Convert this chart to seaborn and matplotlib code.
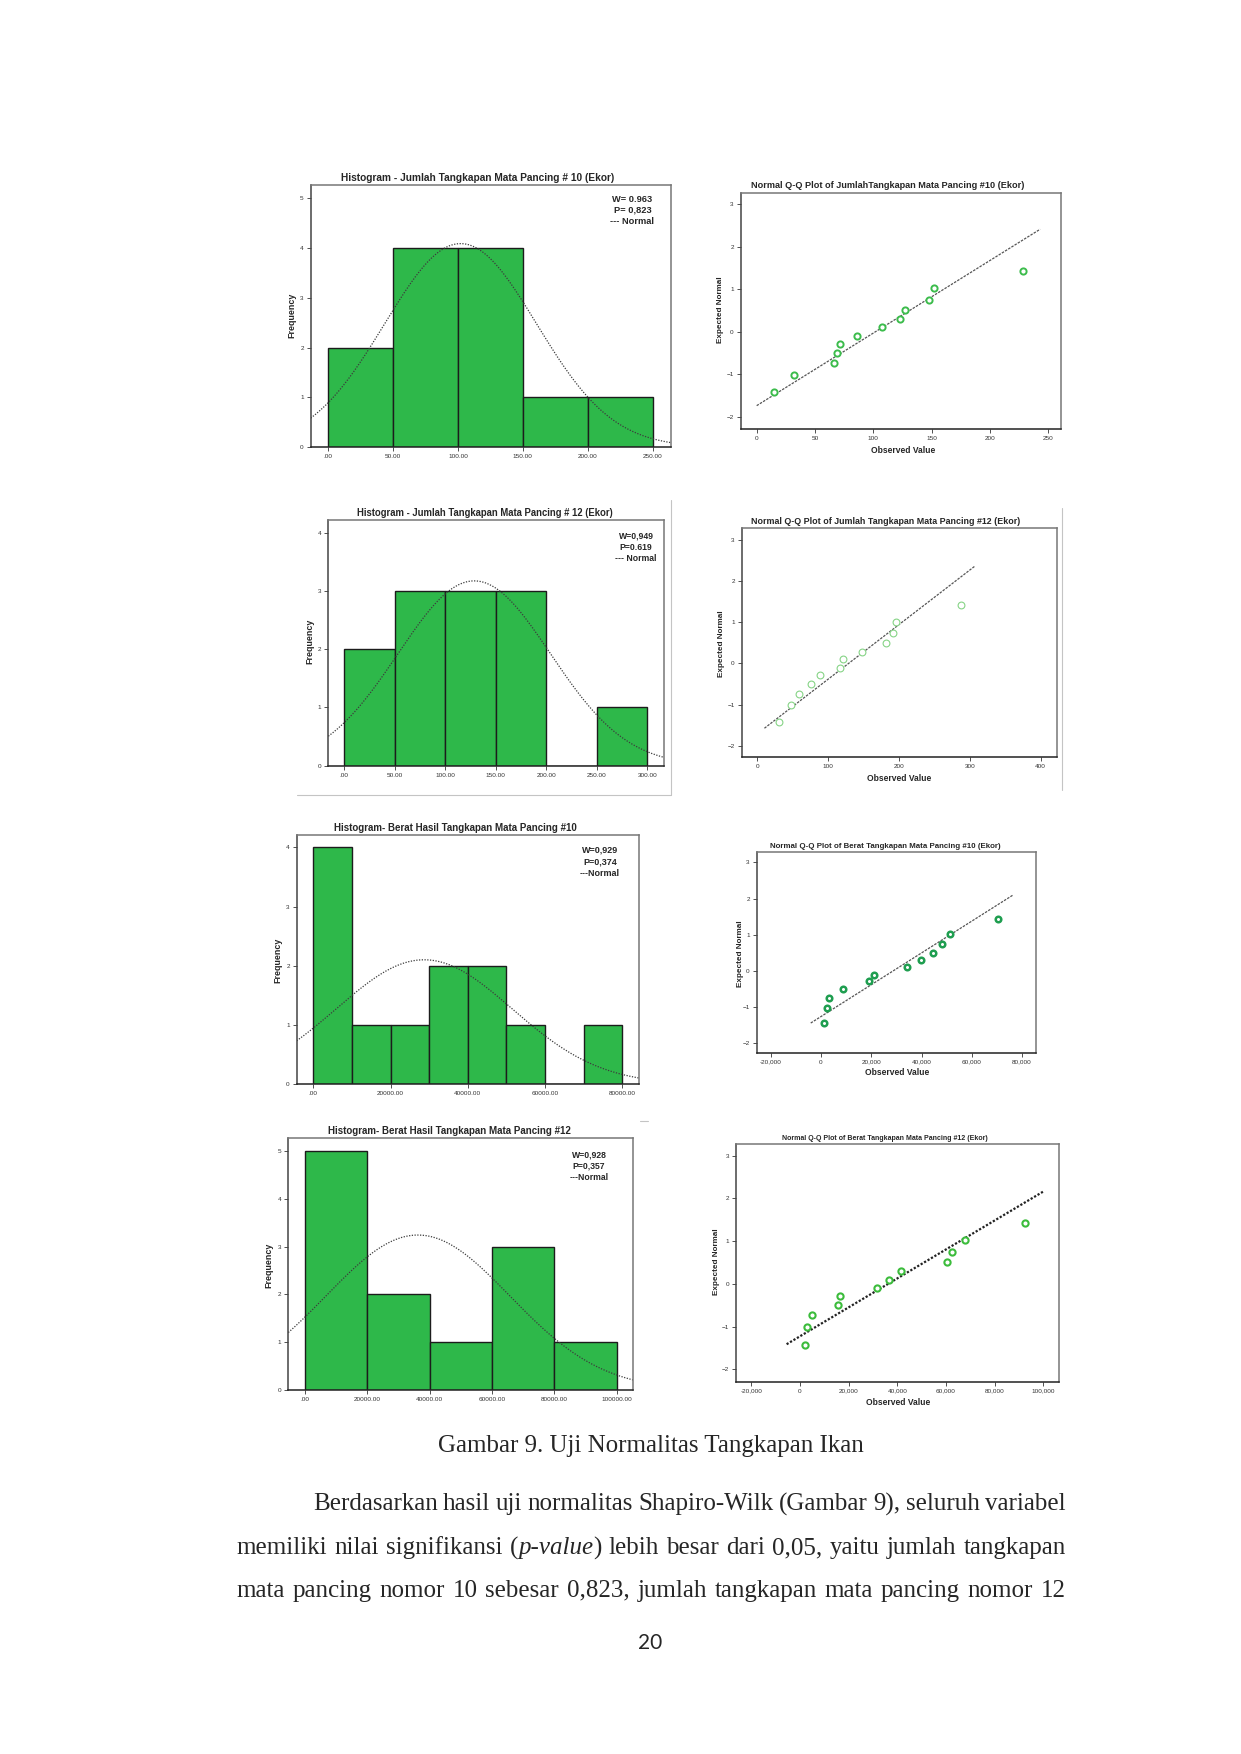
import numpy as np
import seaborn as sns
import matplotlib.pyplot as plt
from matplotlib.lines import Line2D

W, H = 1241, 1754

jumlah_10 = [15, 32, 66, 69, 71, 86, 107, 123, 127, 148, 152, 228]
jumlah_12 = [30, 48, 59, 76, 88, 117, 121, 148, 182, 192, 196, 287]
berat_10 = [1325, 2250, 3050, 8870, 19070, 21060, 34300, 39800, 44640, 47950, 51390, 70600]
berat_12 = [2055, 2740, 5070, 15480, 16440, 31510, 36440, 41510, 60550, 62600, 67950, 92470]
expected_normal = [-1.43, -1.02, -0.74, -0.50, -0.29, -0.10, 0.10, 0.29, 0.50, 0.74, 1.02, 1.43]

# histogram bin edges
bins_j10 = [0, 50, 100, 150, 200, 250]
bins_j12 = [0, 50, 100, 150, 200, 250, 300]
bins_b10 = [0, 10000, 20000, 30000, 40000, 50000, 60000, 70000, 80000]
bins_b12 = [0, 20000, 40000, 60000, 80000, 100000]

# x range covered by the reference line in each Q-Q plot
qq_line_j10 = [0, 243]
qq_line_j12 = [10, 307]
qq_line_b10 = [-4100, 76400]
qq_line_b12 = [-5500, 100000]

stats_j10 = ["W= 0.963", "P= 0,823", "--- Normal"]
stats_j12 = ["W=0,949", "P=0.619", "--- Normal"]
stats_b10 = ["W=0,929", "P=0,374", "---Normal"]
stats_b12 = ["W=0,928", "P=0,357", "---Normal"]

GREEN = "#2eb84a"

sns.set_style("white")
plt.rcParams["font.family"] = ["Liberation Sans", "DejaVu Sans"]

fig = plt.figure(figsize=(W / 100, H / 100), dpi=100)
fig.patch.set_facecolor("white")


def box(l, t, r, b):
    return [l / W, 1 - b / H, (r - l) / W, (b - t) / H]


def ftext(x, y, s, width=None, **kw):
    t = fig.text(x / W, 1 - y / H, s, **kw)
    if width:
        r = fig.canvas.get_renderer()
        ext = t.get_window_extent(r)
        w = ext.height if kw.get("rotation") == 90 else ext.width
        t.set_fontsize(t.get_fontsize() * width / w)
    return t


def style_axes(ax, xlim, ylim):
    ax.set_xlim(xlim)
    ax.set_ylim(ylim)
    for s in ax.spines.values():
        s.set_color("#777777")
        s.set_linewidth(1.1)
    ax.spines["bottom"].set_color("#222222")
    ax.spines["left"].set_color("#444444")
    ax.tick_params(labelsize=4.6, length=3, width=0.6, colors="#333333", pad=2,
                   bottom=True, left=True)
    ax.set_xlabel("")
    ax.set_ylabel("")


def hist_panel(rect, values, bins, xlim, ylim, yticks, title, title_c, title_w,
               stats, stats_c, stats_w, freq_c):
    ax = fig.add_axes(box(*rect))
    vals = np.array(values, dtype=float)
    sns.histplot(x=vals, bins=bins, ax=ax, color=GREEN, edgecolor="#1c1c1c",
                 linewidth=1.0, alpha=1)
    mu, sd = vals.mean(), vals.std(ddof=1)
    binw = bins[1] - bins[0]
    xs = np.linspace(xlim[0], xlim[1], 300)
    ys = len(vals) * binw * np.exp(-0.5 * ((xs - mu) / sd) ** 2) / (sd * np.sqrt(2 * np.pi))
    sns.lineplot(x=xs, y=ys, ax=ax, color="#3c3c3c", lw=0.9, linestyle=(0, (1, 1.2)))
    style_axes(ax, xlim, ylim)
    ax.set_xticks(bins)
    ax.set_xticklabels([f"{b:.2f}".lstrip("0") if b == 0 else f"{b:.2f}" for b in bins])
    ax.set_yticks(yticks)
    ftext(title_c[0], title_c[1], title, title_w, ha="center", va="center",
          fontweight="bold", fontsize=7)
    t0 = ftext(stats_c[0], stats_c[1], stats[0], stats_w, ha="center", va="center",
               fontweight="bold", fontsize=6)
    for i, s in enumerate(stats[1:]):
        ftext(stats_c[0], stats_c[1] + 11.5 * (i + 1), s, None, ha="center", va="center",
              fontweight="bold", fontsize=t0.get_fontsize())
    ftext(freq_c[0], freq_c[1], "Frequency", 46, rotation=90, ha="center", va="center",
          fontweight="bold", fontsize=6)
    return ax


def qq_panel(rect, values, line_x, xlim, ylim, xticks, title, title_c, title_w,
             obs_c, exp_c, mk, line_kw):
    ax = fig.add_axes(box(*rect))
    vals = np.array(values, dtype=float)
    mu, sd = vals.mean(), vals.std(ddof=1)
    lx = np.array(line_x, dtype=float)
    sns.lineplot(x=lx, y=(lx - mu) / sd, ax=ax, **line_kw)
    sns.scatterplot(x=vals, y=expected_normal, ax=ax, marker="o", facecolor="white",
                    zorder=3, **mk)
    style_axes(ax, xlim, ylim)
    ax.set_xticks(xticks)
    ax.set_xticklabels([f"{v:,}" for v in xticks])
    ax.set_yticks([-2, -1, 0, 1, 2, 3])
    ftext(title_c[0], title_c[1], title, title_w, ha="center", va="center",
          fontweight="bold", fontsize=7)
    ftext(obs_c[0], obs_c[1], "Observed Value", 65, ha="center", va="center",
          fontweight="bold", fontsize=6)
    ftext(exp_c[0], exp_c[1], "Expected Normal", 67, rotation=90, ha="center",
          va="center", fontweight="bold", fontsize=6)
    return ax


hist_panel((310.7, 185, 670.7, 447), jumlah_10, bins_j10, (-13.6, 264), (0, 5.27),
           [0, 1, 2, 3, 4, 5], "Histogram - Jumlah Tangkapan Mata Pancing # 10 (Ekor)",
           (477.5, 178), 275, stats_j10, (632.5, 199), 40, (291.7, 315))

qq_panel((740.7, 192.7, 1060.7, 429.3), jumlah_10, qq_line_j10, (-13.7, 260.6),
         (-2.30, 3.27), [0, 50, 100, 150, 200, 250],
         "Normal Q-Q Plot of JumlahTangkapan Mata Pancing #10 (Ekor)", (887.8, 185), 274,
         (903, 450.7), (720, 310),
         dict(s=20, edgecolor="#3cbc4c", linewidth=1.4),
         dict(color="#555555", lw=0.9, linestyle=(0, (2, 1))))

hist_panel((328.3, 520, 664.3, 765.7), jumlah_12, bins_j12, (-15.8, 316.8), (0, 4.22),
           [0, 1, 2, 3, 4], "Histogram - Jumlah Tangkapan Mata Pancing # 12 (Ekor)",
           (484.5, 513.3), 258, stats_j12, (636, 535.7), 35, (310, 641.7))

qq_panel((741.7, 527.7, 1056.7, 757.3), jumlah_12, qq_line_j12, (-22.1, 422.6),
         (-2.28, 3.30), [0, 100, 200, 300, 400],
         "Normal Q-Q Plot of Jumlah Tangkapan Mata Pancing #12 (Ekor)", (885.5, 521.7), 268,
         (899.3, 778.3), (721.7, 643.3),
         dict(s=24, edgecolor="#86d486", linewidth=0.8),
         dict(color="#555555", lw=0.9, linestyle=(0, (2, 1))))

hist_panel((296.7, 835, 639, 1084.3), berat_10, bins_b10, (-4315, 84316), (0, 4.21),
           [0, 1, 2, 3, 4], "Histogram- Berat Hasil Tangkapan Mata Pancing #10",
           (455.8, 828.3), 245, stats_b10, (600, 850), 36.7, (277.7, 960))
ax5 = fig.axes[-1]
ax5.set_xticks([0, 20000, 40000, 60000, 80000])
ax5.set_xticklabels([".00", "20000.00", "40000.00", "60000.00", "80000.00"])

qq_panel((756.7, 852, 1035.7, 1052.7), berat_10, qq_line_b10, (-25605, 85440),
         (-2.26, 3.285), [-20000, 0, 20000, 40000, 60000, 80000],
         "Normal Q-Q Plot of Berat Tangkapan Mata Pancing #10 (Ekor)", (885, 846), 230,
         (896.7, 1072.3), (740, 953.3),
         dict(s=16, edgecolor="#1f9e50", linewidth=1.8),
         dict(color="#555555", lw=0.9, linestyle=(0, (2, 1))))

hist_panel((288.3, 1137.7, 633.3, 1390), berat_12, bins_b12, (-5348, 105348), (0, 5.28),
           [0, 1, 2, 3, 4, 5], "Histogram- Berat Hasil Tangkapan Mata Pancing #12",
           (449.2, 1131), 245, stats_b12, (589, 1155), 35, (269, 1265.3))

qq_panel((736, 1144.3, 1059.3, 1381.7), berat_12, qq_line_b12, (-26300, 106575),
         (-2.29, 3.265), [-20000, 0, 20000, 40000, 60000, 80000, 100000],
         "Normal Q-Q Plot of Berat Tangkapan Mata Pancing #12 (Ekor)", (885, 1138.3), 203,
         (898.3, 1402.3), (716, 1261.7),
         dict(s=20, edgecolor="#3cbc3c", linewidth=1.5),
         dict(color="#222222", lw=1.6, linestyle=(0, (1, 0.8))))

# thin screenshot borders around some of the pasted charts
for x0, y0, x1, y1 in [(671, 500, 671, 795), (297, 795, 671, 795),
                       (1062, 508, 1062, 790), (640, 1121, 648, 1121)]:
    fig.add_artist(Line2D([x0 / W, x1 / W], [1 - y0 / H, 1 - y1 / H],
                          color="#c4c4c4", lw=0.8))

# caption, paragraph and page number
SERIF = ["Liberation Serif", "DejaVu Serif"]
ftext(650.6, 1446, "Gambar 9. Uji Normalitas Tangkapan Ikan", None, ha="center",
      va="center", family=SERIF, fontsize=18)

para = [
    (313, 1504, [[("Berdasarkan", "normal")], [("hasil", "normal")], [("uji", "normal")],
                 [("normalitas", "normal")], [("Shapiro-Wilk", "normal")],
                 [("(Gambar", "normal")], [("9),", "normal")], [("seluruh", "normal")],
                 [("variabel", "normal")]]),
    (236.7, 1548, [[("memiliki", "normal")], [("nilai", "normal")], [("signifikansi", "normal")],
                   [("(", "normal"), ("p-value", "italic"), (")", "normal")],
                   [("lebih", "normal")], [("besar", "normal")], [("dari", "normal")],
                   [("0,05,", "normal")], [("yaitu", "normal")], [("jumlah", "normal")],
                   [("tangkapan", "normal")]]),
    (236.7, 1590.6, [[(w, "normal")] for w in
                     "mata pancing nomor 10 sebesar 0,823, jumlah tangkapan mata pancing nomor 12".split()]),
]
right_edge = 1065.6
renderer = fig.canvas.get_renderer()
for x_start, y, words in para:
    placed = []
    for word in words:
        segs = []
        for txt, st in word:
            t = fig.text(0, 1 - y / H, txt, family=SERIF, style=st, fontsize=18, va="center")
            segs.append((t, t.get_window_extent(renderer).width))
        placed.append(segs)
    total = sum(w for segs in placed for _, w in segs)
    gap = (right_edge - x_start - total) / (len(placed) - 1)
    x = x_start
    for segs in placed:
        for t, w in segs:
            t.set_x(x / W)
            x += w
        x += gap

ftext(650.6, 1643, "20", None, ha="center", va="center",
      family=["Lato", "DejaVu Sans"], fontsize=15)

fig.savefig("out.png", dpi=100, facecolor="white")
